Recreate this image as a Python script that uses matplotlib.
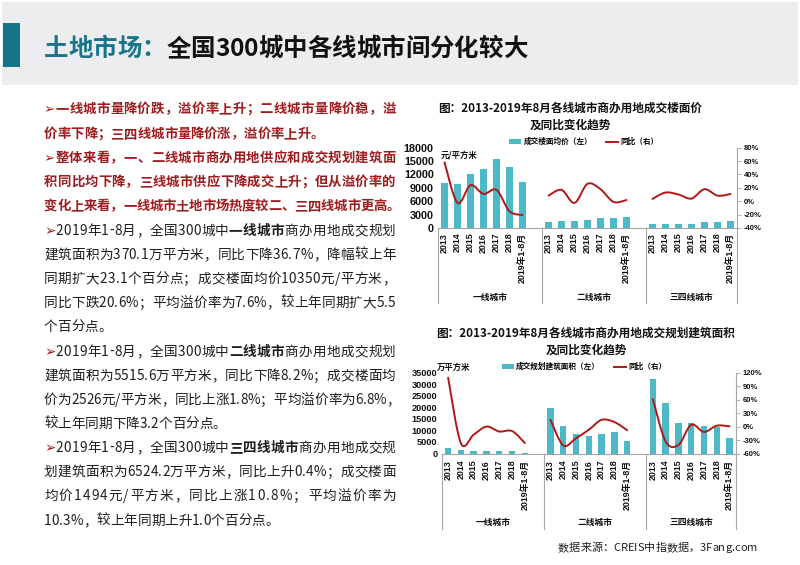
import numpy as np
import matplotlib
matplotlib.use('Agg')
import matplotlib.pyplot as plt
from matplotlib.path import Path
from matplotlib.patches import PathPatch, Rectangle, Patch
from matplotlib.lines import Line2D
from matplotlib.font_manager import FontProperties, findfont, get_font
import matplotlib.transforms as mtransforms

# ---------------- data ----------------
groups = ['一线城市', '二线城市', '三四线城市']
years = ['2013', '2014', '2015', '2016', '2017', '2018', '2019年1-8月']

price_t1 = [10000, 9800, 12100, 13200, 15500, 13600, 10350]
price_t2 = [1400, 1600, 1650, 1900, 2350, 2350, 2526]
price_t3 = [800, 950, 1000, 1000, 1250, 1250, 1494]
price_yoy_t1 = [58, -2.5, 24, 11, 17, -15, -20.6]
price_yoy_t2 = [8.4, 17, -2.5, 26, 18, -1, 1.8]
price_yoy_t3 = [3.5, 13, 10, 4, 18, 8.4, 10.8]

area_t1 = [2300, 1450, 1150, 1150, 1100, 900, 370.1]
area_t2 = [19700, 12000, 8500, 7650, 8500, 9200, 5515.6]
area_t3 = [32100, 21900, 13100, 13400, 11700, 11500, 6524.2]
area_yoy_t1 = [109, -37, -18, 0, -11, -10, -36.7]
area_yoy_t2 = [15, -42, -26, -7, 15, 10, -8.2]
area_yoy_t3 = [61, -33, -41, 4, -12, 2, 0.4]

price_ticks = [0, 3000, 6000, 9000, 12000, 15000, 18000]
price_yoy_ticks = [-40, -20, 0, 20, 40, 60, 80]
area_ticks = [0, 5000, 10000, 15000, 20000, 25000, 30000, 35000]
area_yoy_ticks = [-60, -30, 0, 30, 60, 90, 120]

# ---------------- style ----------------
W, H = 800, 565
BAR = '#4BB9C6'
LINE = '#B01818'
AXC = '#A6A6A6'
RED = '#9E1B1E'
TXT = '#1E1E1E'
TEAL = '#17758A'
CJK = 'Noto Sans CJK SC'
TICKFAM = ['Liberation Sans', 'Noto Sans CJK SC']

fig = plt.figure(figsize=(8, 5.65), dpi=100)


def fx(x):
    return x / W


def fy(y):
    return 1 - y / H


def adv(ch, fam, bold, size):
    fp = FontProperties(family=fam, weight='bold' if bold else 'normal', size=size)
    f = get_font(findfont(fp))
    f.set_size(size, 100)
    g = f.load_char(ord(ch))
    return g.linearHoriAdvance / 65536


def draw_line(yc, runs, size, x0=44, x1=None, align='left'):
    chars = []
    for text, bold, color in runs:
        for ch in text:
            fam = 'DejaVu Sans' if ch == '➢' else CJK
            chars.append((ch, fam, bold, color, adv(ch, fam, bold, size)))
    total = sum(c[4] for c in chars)
    extra = 0.0
    if x1 is not None and len(chars) > 1:
        extra = (x1 - x0 - total) / (len(chars) - 1)
    if align == 'right':
        x0 = x0 - total
    x = x0
    yb = yc + size * 100 / 72 * 0.37
    for ch, fam, bold, color, a in chars:
        fig.text(fx(x), fy(yb), ch, family=fam,
                 fontweight='bold' if bold else 'normal',
                 fontsize=size, color=color, ha='left', va='baseline')
        x += a + extra
    return x


# ---------------- header ----------------
fig.patches.append(Rectangle((fx(2), fy(85)), fx(796), 83 / H, transform=fig.transFigure,
                             facecolor='#EDEDF0', edgecolor='none', zorder=0))
fig.patches.append(Rectangle((fx(3), fy(67)), fx(17), 44 / H, transform=fig.transFigure,
                             facecolor=TEAL, edgecolor='none', zorder=1))
draw_line(47, [('土地市场：', True, TEAL), ('全国300城中各线城市间分化较大', True, '#111111')],
          17.6, x0=44)

# ---------------- left text ----------------
RS = 9.6
BS = 9.8
R = 395.5
lines = [
    (108, [('➢一线城市量降价跌，溢价率上升；二线城市量降价稳，溢', True, RED)], RS, R),
    (133, [('价率下降；三四线城市量降价涨，溢价率上升。', True, RED)], RS, None),
    (157, [('➢整体来看，一、二线城市商办用地供应和成交规划建筑面', True, RED)], RS, R),
    (181, [('积同比均下降，三线城市供应下降成交上升；但从溢价率的', True, RED)], RS, R),
    (205, [('变化上来看，一线城市土地市场热度较二、三四线城市更高。', True, RED)], RS, 400),
    (230, [('➢', False, RED), ('2019年1-8月，全国300城中', False, TXT), ('一线城市', True, TXT),
           ('商办用地成交规划', False, TXT)], BS, R),
    (254, [('建筑面积为370.1万平方米，同比下降36.7%，降幅较上年', False, TXT)], BS, R),
    (278, [('同期扩大23.1个百分点；成交楼面均价10350元/平方米，', False, TXT)], BS, R),
    (302, [('同比下跌20.6%；平均溢价率为7.6%，较上年同期扩大5.5', False, TXT)], BS, R),
    (326, [('个百分点。', False, TXT)], BS, None),
    (351, [('➢', False, RED), ('2019年1-8月，全国300城中', False, TXT), ('二线城市', True, TXT),
           ('商办用地成交规划', False, TXT)], BS, R),
    (375, [('建筑面积为5515.6万平方米，同比下降8.2%；成交楼面均', False, TXT)], BS, R),
    (399, [('价为2526元/平方米，同比上涨1.8%；平均溢价率为6.8%，', False, TXT)], BS, 400),
    (423, [('较上年同期下降3.2个百分点。', False, TXT)], BS, None),
    (447, [('➢', False, RED), ('2019年1-8月，全国300城中', False, TXT), ('三四线城市', True, TXT),
           ('商办用地成交规', False, TXT)], BS, R),
    (471, [('划建筑面积为6524.2万平方米，同比上升0.4%；成交楼面', False, TXT)], BS, R),
    (495, [('均价1494元/平方米，同比上涨10.8%；平均溢价率为', False, TXT)], BS, R),
    (520, [('10.3%，较上年同期上升1.0个百分点。', False, TXT)], BS, None),
]
for yc, runs, size, x1 in lines:
    draw_line(yc, runs, size, x0=44, x1=x1)

# footer
draw_line(547, [('数据来源：CREIS中指数据，3Fang.com', False, '#222222')], 8.0, x0=757, align='right')


# ---------------- charts ----------------
def smooth_path(xs, ys):
    P = np.column_stack([xs, ys]).astype(float)
    n = len(P)
    verts = [P[0]]
    codes = [Path.MOVETO]
    for i in range(n - 1):
        p0 = P[i - 1] if i > 0 else P[i]
        p3 = P[i + 2] if i + 2 < n else P[i + 1]
        c1 = P[i] + (P[i + 1] - p0) / 6.0
        c2 = P[i + 1] - (p3 - P[i]) / 6.0
        verts += [c1, c2, P[i + 1]]
        codes += [Path.CURVE4] * 3
    return Path(verts, codes)


def draw_chart(l, r, t, b, bars, yoys, lticks, rticks, lsize, xpad, sep_px, lab_px,
               title1, title2, tx, ty1, ty2, unit, ux, uy, legend_label, leg_y):
    ax = fig.add_axes([fx(l), fy(b), (r - l) / W, (b - t) / H])
    hpx = b - t
    for g in range(3):
        xs = [g * 8 + i for i in range(7)]
        ax.bar(xs, bars[g], width=0.5, color=BAR, zorder=2)
    ax.set_xlim(-0.5, 22.5)
    ax.set_ylim(lticks[0], lticks[-1])
    ax.set_yticks(lticks)
    ax.set_yticklabels([str(v) for v in lticks], family=TICKFAM, fontweight='bold',
                       fontsize=lsize, color='#111111')
    pos = [g * 8 + i for g in range(3) for i in range(7)]
    ax.set_xticks(pos)
    ax.set_xticklabels(years * 3, rotation=90, family=TICKFAM, fontweight='bold',
                       fontsize=6.4, color='#111111')
    ax.tick_params(axis='y', length=0, pad=3)
    ax.tick_params(axis='x', length=0, pad=xpad)
    for s in ['top', 'left', 'right']:
        ax.spines[s].set_visible(False)
    ax.spines['bottom'].set_color(AXC)
    ax.spines['bottom'].set_linewidth(0.8)
    ax.patch.set_alpha(0)

    trans = mtransforms.blended_transform_factory(ax.transData, ax.transAxes)
    for xv in [-0.5, 7.5, 15.5, 22.5]:
        ax.plot([xv, xv], [0, -sep_px / hpx], transform=trans, color=AXC, lw=0.8,
                clip_on=False, zorder=1)
    for g, name in enumerate(groups):
        cx = [3.5, 11.5, 19.0][g]
        ax.text(cx, -lab_px / hpx, name, transform=trans, ha='center', va='center',
                family=CJK, fontweight='bold', fontsize=6.3, color='#111111')

    ax2 = ax.twinx()
    ax2.set_ylim(rticks[0], rticks[-1])
    ax2.set_yticks(rticks)
    ax2.set_yticklabels(['%d%%' % v for v in rticks], family=TICKFAM, fontweight='bold',
                        fontsize=5.5, color='#111111')
    ax2.tick_params(axis='y', direction='out', length=3, width=0.6, color=AXC, pad=2)
    for s in ['top', 'left', 'bottom']:
        ax2.spines[s].set_visible(False)
    ax2.spines['right'].set_color(AXC)
    ax2.spines['right'].set_linewidth(0.8)
    for g in range(3):
        xs = [g * 8 + i for i in range(7)]
        ax2.add_patch(PathPatch(smooth_path(xs, yoys[g]), fill=False, edgecolor=LINE,
                                lw=1.4, capstyle='round', joinstyle='round', zorder=3))

    fig.text(fx(tx), fy(ty1), title1, ha='center', va='center', family=CJK,
             fontweight='bold', fontsize=8.4, color='#111111')
    fig.text(fx(tx), fy(ty2), title2, ha='center', va='center', family=CJK,
             fontweight='bold', fontsize=8.4, color='#111111')
    fig.text(fx(ux), fy(uy), unit, ha='left', va='center', family=CJK,
             fontweight='bold', fontsize=6.0, color='#111111')

    handles = [Patch(facecolor=BAR, edgecolor='none'),
               Line2D([0], [0], color=LINE, lw=1.4)]
    fig.legend(handles, [legend_label, '同比（右）'], loc='center',
               bbox_to_anchor=(fx(584), fy(leg_y)), ncol=2, frameon=False,
               prop=FontProperties(family=CJK, weight='bold', size=5.5),
               handlelength=1.6, handleheight=0.6, handletextpad=0.3,
               columnspacing=1.8, borderpad=0, borderaxespad=0)
    return ax, ax2


draw_chart(438, 737, 147.7, 228, [price_t1, price_t2, price_t3],
           [price_yoy_t1, price_yoy_t2, price_yoy_t3], price_ticks, price_yoy_ticks,
           7.8, 3.5, 75, 69,
           '图：2013-2019年8月各线城市商办用地成交楼面价', '及同比变化趋势',
           570, 108, 125.5, '元/平方米', 441, 155, '成交楼面均价（左）', 141.7)

draw_chart(441.7, 736, 372.7, 453.5, [area_t1, area_t2, area_t3],
           [area_yoy_t1, area_yoy_t2, area_yoy_t3], area_ticks, area_yoy_ticks,
           6.6, 4.5, 75, 68.5,
           '图：2013-2019年8月各线城市商办用地成交规划建筑面积', '及同比变化趋势',
           586, 333, 350, '万平方米', 437, 367, '成交规划建筑面积（左）', 366.7)

fig.savefig('out.png', dpi=100)
